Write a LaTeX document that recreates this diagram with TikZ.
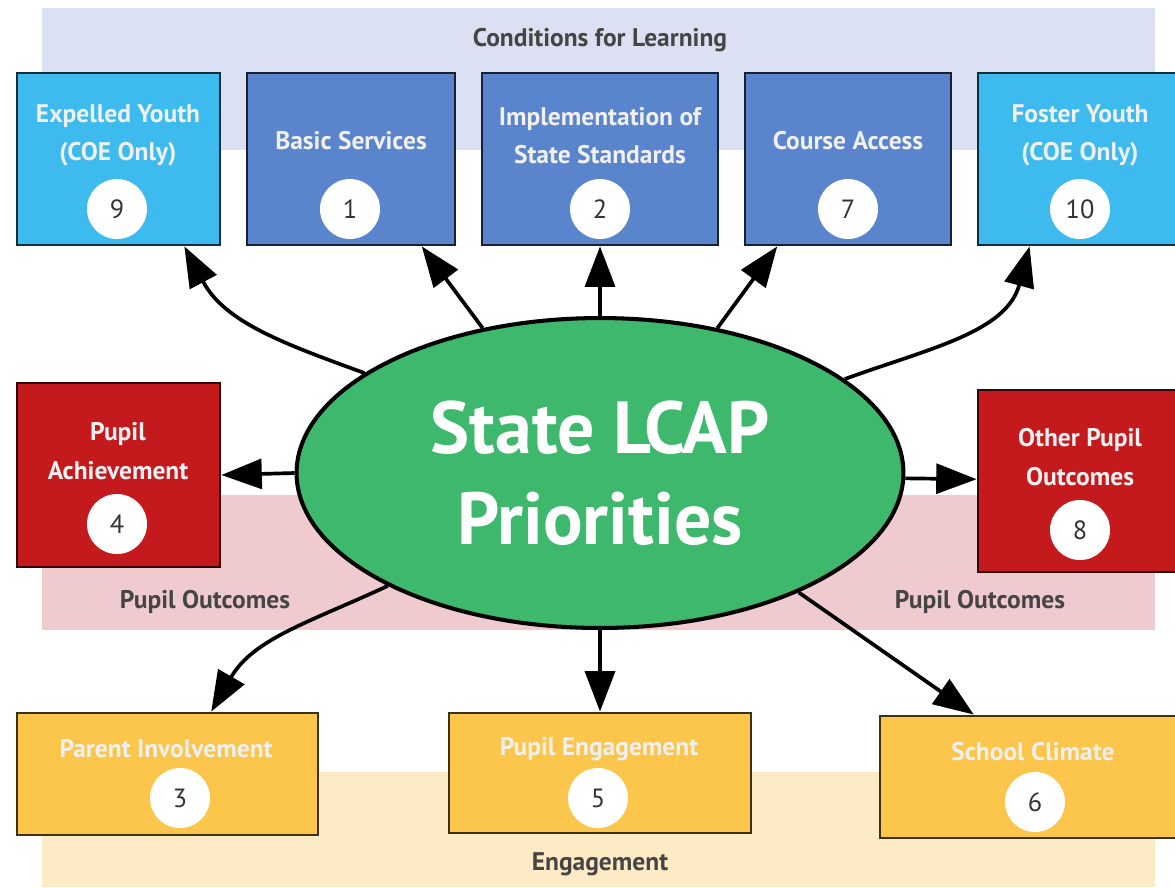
\documentclass[tikz,border=0pt]{standalone}
\usepackage{fontspec}
\setmainfont{PT Sans}
\usetikzlibrary{shapes.geometric,arrows.meta}

\definecolor{bandblue}{HTML}{DBE0F2}
\definecolor{bandpink}{HTML}{EFCBD0}
\definecolor{bandyellow}{HTML}{FDEBC6}
\definecolor{youthblue}{HTML}{3EBBEE}
\definecolor{condblue}{HTML}{5A85CD}
\definecolor{outred}{HTML}{C51A1D}
\definecolor{engyellow}{HTML}{FBC64B}
\definecolor{lcapgreen}{HTML}{3DB86C}
\definecolor{labelgray}{HTML}{454545}
\definecolor{numgray}{HTML}{333333}

\tikzset{
  prio/.style={rectangle, fill=#1, draw=#1!25!black, line width=1.6pt, inner sep=0pt},
  boxtext/.style={text=white!94!black, align=center, font=\bfseries\fontsize{14.5}{22}\selectfont},
  numcirc/.style={circle, fill=white, minimum size=1.2cm, inner sep=0pt, text=numgray, font=\fontsize{15}{15}\selectfont},
  bandlabel/.style={text=labelgray, font=\bfseries\fontsize{14.5}{17}\selectfont},
  spoke/.style={line width=2.1pt, -{Triangle[length=23pt,width=17pt]}}
}

\begin{document}
\begin{tikzpicture}[x=0.02cm, y=-0.02cm]
    \useasboundingbox (0,0) rectangle (1175,887);

    % Background bands
    \fill[bandblue] (42,8) rectangle (1155,150);
    \fill[bandpink] (42,495) rectangle (1155,630);
    \fill[bandyellow] (42,772) rectangle (1155,887);
    \node[bandlabel] (condlabel) at (600,40) {Conditions for Learning};
    \node[bandlabel] (outlabelL) at (205,602) {Pupil Outcomes};
    \node[bandlabel] (outlabelR) at (980,602) {Pupil Outcomes};
    \node[bandlabel] (englabel) at (600,864) {Engagement};

    % Conditions for learning
    \node[prio=youthblue, minimum width=4.06cm, minimum height=3.44cm] (b9) at (118.5,159) {};
    \node[prio=condblue, minimum width=4.16cm, minimum height=3.44cm] (b1) at (351,159) {};
    \node[prio=condblue, minimum width=4.72cm, minimum height=3.44cm] (b2) at (600,159) {};
    \node[prio=condblue, minimum width=4.12cm, minimum height=3.44cm] (b7) at (848,159) {};
    \node[prio=youthblue, minimum width=4.08cm, minimum height=3.44cm] (b10) at (1080,159) {};
    \node[boxtext] (t9) at (118,135.5) {Expelled Youth\\(COE Only)};
    \node[boxtext] (t1) at (351,141) {Basic Services};
    \node[boxtext] (t2) at (600,135.5) {Implementation of\\State Standards};
    \node[boxtext] (t7) at (848,141) {Course Access};
    \node[boxtext] (t10) at (1080,135.5) {Foster Youth\\(COE Only)};
    \node[numcirc] (c9) at (117,209) {9};
    \node[numcirc] (c1) at (350,209) {1};
    \node[numcirc] (c2) at (600,209) {2};
    \node[numcirc] (c7) at (848,209) {7};
    \node[numcirc] (c10) at (1080,209) {10};

    % Pupil outcomes
    \node[prio=outred, minimum width=4.06cm, minimum height=3.68cm] (b4) at (118.5,475) {};
    \node[prio=outred, minimum width=4.08cm, minimum height=3.64cm] (b8) at (1080,481) {};
    \node[boxtext] (t4) at (118,451) {Pupil\\Achievement};
    \node[boxtext] (t8) at (1080,457) {Other Pupil\\Outcomes};
    \node[numcirc] (c4) at (117,524) {4};
    \node[numcirc] (c8) at (1080,530) {8};

    % Engagement
    \node[prio=engyellow, minimum width=6.02cm, minimum height=2.44cm] (b3) at (167.5,774) {};
    \node[prio=engyellow, minimum width=6.04cm, minimum height=2.40cm] (b5) at (600,773) {};
    \node[prio=engyellow, minimum width=6.08cm, minimum height=2.44cm] (b6) at (1032,777) {};
    \node[boxtext] (t3) at (166,749) {Parent Involvement};
    \node[boxtext] (t5) at (599,749) {Pupil Engagement};
    \node[boxtext] (t6) at (1033,752) {School Climate};
    \node[numcirc] (c3) at (180,798) {3};
    \node[numcirc] (c5) at (598,798) {5};
    \node[numcirc] (c6) at (1035,802) {6};

    % Centre
    \node[ellipse, fill=lcapgreen, draw=black, line width=2.3pt, minimum width=12.14cm, minimum height=6.2cm,
          inner sep=0pt, text=white, align=center, font=\bfseries\fontsize{42}{52}\selectfont] (lcap) at (600,473) {State LCAP\\Priorities};

    % Arrows out of the centre
    \draw[spoke] (lcap.157.7) to[out=160, in=-62] (b9.-53);
    \draw[spoke] (lcap.129) -- (b1.-51);
    \draw[spoke] (lcap.north) -- (b2.south);
    \draw[spoke] (lcap.51.4) -- (b7.-129);
    \draw[spoke] (lcap.21.3) to[out=20, in=-105] (b10.-120);
    \draw[spoke] (lcap.west) -- (b4.east);
    \draw[spoke] (lcap.-1) -- (b8.179);
    \draw[spoke] (lcap.208.4) to[out=205, in=60] (b3.55);
    \draw[spoke] (lcap.south) -- (b5.north);
    \draw[spoke] (lcap.329.5) -- (b6.133);
\end{tikzpicture}
\end{document}
